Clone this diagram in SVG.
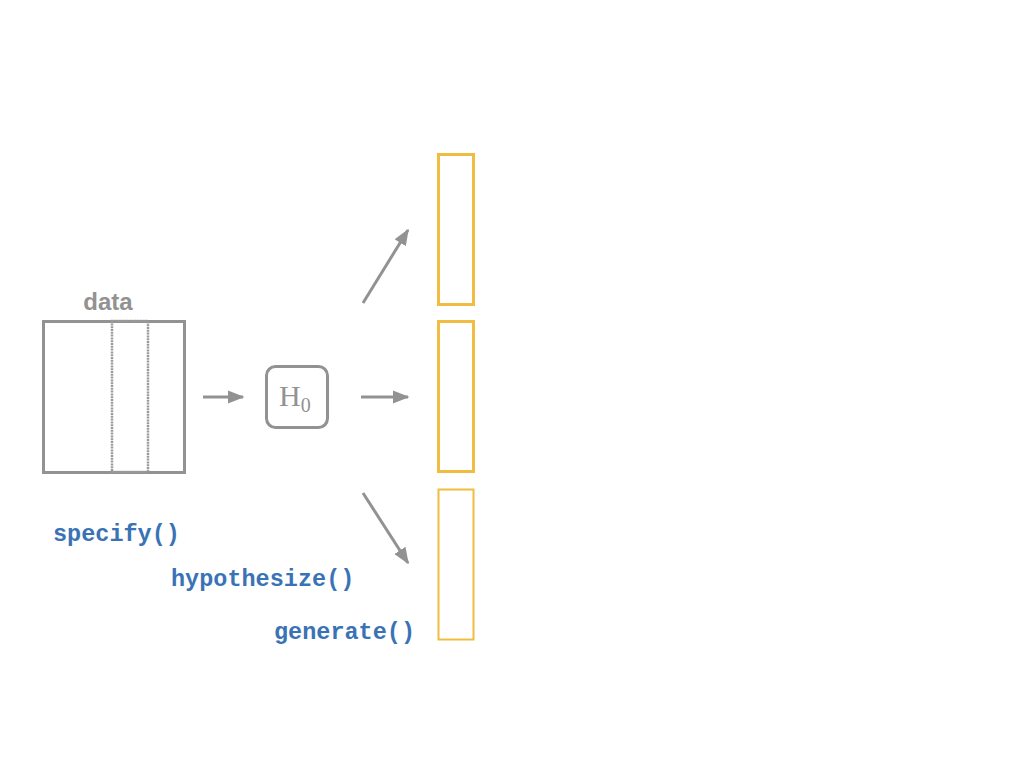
<svg xmlns="http://www.w3.org/2000/svg" width="1024" height="768" viewBox="0 0 1024 768">
<style>
.g{fill:none;stroke:#929292;stroke-width:3}
.o{fill:none;stroke:#F0BC42;stroke-width:3}
.fn{font-family:"Liberation Mono","Courier New",monospace;font-weight:bold;font-size:23.5px;fill:#3A73B5}
.c{fill:none;stroke:#929292;stroke-width:3}
</style>
<defs>
<marker id="ah" markerWidth="5.5" markerHeight="4.4" refX="5" refY="2.2" orient="auto" markerUnits="strokeWidth">
<path d="M0,0 L5.5,2.2 L0,4.4 z" fill="#929292"/>
</marker>
</defs>
<rect width="1024" height="768" fill="#fff"/>
<g id="data">
<text x="108" y="310" text-anchor="middle" font-family="Liberation Sans, Arial, sans-serif" font-weight="bold" font-size="24" fill="#929292">data</text>
<rect class="g" x="43.5" y="321.5" width="141" height="151"/>
<rect x="112" y="321" width="36" height="151" fill="none" stroke="#9a9a9a" stroke-width="2.5" stroke-dasharray="2 0.8"/>
</g>
<g id="h0">
<rect class="g" x="266.5" y="366.5" width="61" height="61" rx="9"/>
<text x="279" y="406" font-family="Liberation Serif, Times New Roman, serif" font-size="30" fill="#929292">H<tspan font-size="20" dy="6">0</tspan></text>
</g>
<g id="out1"><rect class="o" x="438.5" y="154.5" width="35" height="150"/></g>
<g id="out2"><rect class="o" x="438.5" y="321.5" width="35" height="150"/></g>
<g id="out3"><rect x="438.5" y="489.5" width="35" height="150" fill="none" stroke="#F0BC42" stroke-width="2"/></g>
<g id="connectors">
<line class="c" x1="203" y1="397" x2="243" y2="397" marker-end="url(#ah)"/>
<line class="c" x1="361" y1="397" x2="408" y2="397" marker-end="url(#ah)"/>
<line class="c" x1="363" y1="303" x2="408" y2="230" marker-end="url(#ah)"/>
<line class="c" x1="363" y1="493" x2="408" y2="563" marker-end="url(#ah)"/>
</g>
<g id="labels">
<text class="fn" x="53" y="541">specify()</text>
<text class="fn" x="171" y="586">hypothesize()</text>
<text class="fn" x="274" y="639">generate()</text>
</g>
</svg>
